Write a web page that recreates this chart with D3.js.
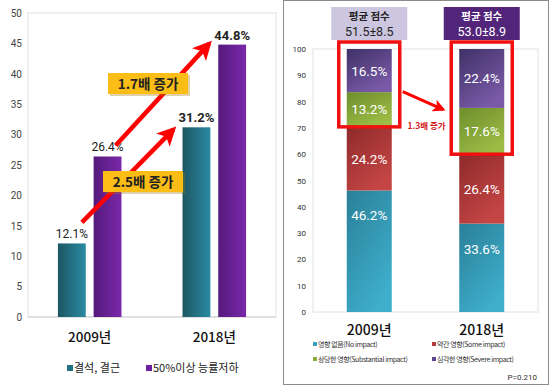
<!DOCTYPE html>
<html>
<head>
<meta charset="utf-8">
<script src="https://cdn.jsdelivr.net/npm/d3@7"></script>
<style>
  body { margin: 0; background: #fff; }
  svg { font-family: "Noto Sans CJK KR", "Noto Sans", sans-serif; }
</style>
</head>
<body>
<svg id="chart" width="550" height="387"></svg>
<script>
// left chart data
var years = ["2009년", "2018년"];
var leftSeries = ["결석, 결근", "50%이상 능률저하"];
var absence = [12.1, 31.2];
var lowWork = [26.4, 44.8];
var leftTicks = [0, 5, 10, 15, 20, 25, 30, 35, 40, 45, 50];

// right chart data
var impactKeys = ["영향 없음(No impact)", "약간 영향(Some impact)", "상당한 영향(Substantial impact)", "심각한 영향(Severe impact)"];
var noImpact = [46.2, 33.6];
var someImpact = [24.2, 26.4];
var substImpact = [13.2, 17.6];
var severeImpact = [16.5, 22.4];
var meanScores = ["51.5±8.5", "53.0±8.9"];
var rightTicks = [0, 10, 20, 30, 40, 50, 60, 70, 80, 90, 100];

var svg = d3.select("#chart");
var defs = svg.append("defs");

function grad(id, c1, c2, vertical) {
  var g = defs.append("linearGradient").attr("id", id)
    .attr("x1", 0).attr("y1", 0)
    .attr("x2", vertical ? 0.6 : 1).attr("y2", vertical ? 1 : 0);
  g.append("stop").attr("offset", "0%").attr("stop-color", c1);
  g.append("stop").attr("offset", "100%").attr("stop-color", c2);
}
grad("gTeal", "#1d5663", "#2a8ba3");
grad("gPurple", "#541a7c", "#7a28aa");
grad("rTeal", "#2a7f98", "#3eaecb", true);
grad("rRed", "#8e2a2a", "#c54545", true);
grad("rGreen", "#6e8e2c", "#9cbc46", true);
grad("rPurple", "#3f3166", "#7a5aa8", true);

var marker = defs.append("marker").attr("id", "arrowHead")
  .attr("viewBox", "0 0 10 10").attr("refX", 8).attr("refY", 5)
  .attr("markerWidth", 4.2).attr("markerHeight", 4.2)
  .attr("markerUnits", "strokeWidth")
  .attr("orient", "auto");
marker.append("path").attr("d", "M0,0 L10,5 L0,10 L2.5,5 Z").attr("fill", "#f00");

// ---------------- left panel ----------------
var L = { left: 28, right: 276, top: 13, bottom: 317 };
var yL = d3.scaleLinear().domain([0, 50]).range([L.bottom, L.top]);
var xL = d3.scaleBand().domain(years).range([L.left, L.right])
  .paddingInner(0.49).paddingOuter(0.24);
var xSub = d3.scaleBand().domain(leftSeries).range([0, xL.bandwidth()]).paddingInner(0.22);

svg.append("rect")
  .attr("x", L.left).attr("y", L.top)
  .attr("width", L.right - L.left).attr("height", L.bottom - L.top)
  .attr("fill", "none").attr("stroke", "#e2e2e2");
svg.append("line")
  .attr("x1", L.left).attr("x2", L.right)
  .attr("y1", L.bottom).attr("y2", L.bottom)
  .attr("stroke", "#cfcfcf");

var yAxisL = svg.append("g").attr("transform", "translate(" + (L.left - 6) + ",0)")
  .call(d3.axisLeft(yL).tickValues(leftTicks).tickSize(0).tickPadding(0));
yAxisL.select(".domain").remove();
yAxisL.selectAll("text").attr("font-size", "10px").attr("fill", "#444")
  .attr("font-family", "Roboto, 'Noto Sans', sans-serif");

var leftData = years.map(function(y, i) {
  return [
    { year: y, key: leftSeries[0], v: absence[i], fill: "url(#gTeal)", bold: i == 1 },
    { year: y, key: leftSeries[1], v: lowWork[i], fill: "url(#gPurple)", bold: i == 1 }
  ];
});

var groups = svg.selectAll(".lgroup")
  .data(leftData).enter().append("g")
  .attr("class", "lgroup")
  .attr("transform", function(d, i) { return "translate(" + xL(years[i]) + ",0)"; });

groups.selectAll("rect")
  .data(function(d) { return d; }).enter().append("rect")
  .attr("x", function(d) { return xSub(d.key); })
  .attr("y", function(d) { return yL(d.v); })
  .attr("width", xSub.bandwidth())
  .attr("height", function(d) { return yL(0) - yL(d.v); })
  .attr("fill", function(d) { return d.fill; });

groups.selectAll("text")
  .data(function(d) { return d; }).enter().append("text")
  .attr("x", function(d) { return xSub(d.key) + xSub.bandwidth() / 2; })
  .attr("y", function(d) { return yL(d.v) - 5; })
  .attr("text-anchor", "middle")
  .attr("font-size", function(d) { return d.bold ? "13px" : "12px"; })
  .attr("font-weight", function(d) { return d.bold ? "bold" : "normal"; })
  .attr("font-family", "Roboto, 'Noto Sans', sans-serif")
  .attr("fill", "#222")
  .text(function(d) { return d.v.toFixed(1) + "%"; });

svg.selectAll(".lyear")
  .data(years).enter().append("text")
  .attr("class", "lyear")
  .attr("x", function(d) { return xL(d) + xL.bandwidth() / 2; })
  .attr("y", 342)
  .attr("text-anchor", "middle")
  .attr("font-size", "13.5px")
  .attr("font-weight", "500")
  .attr("fill", "#111")
  .text(function(d) { return d; });

// left legend
var legL = svg.selectAll(".legL")
  .data(leftSeries).enter().append("g")
  .attr("class", "legL")
  .attr("transform", function(d, i) { return "translate(" + [67, 146][i] + ",370)"; });
legL.append("rect").attr("x", 0).attr("y", -5).attr("width", 6).attr("height", 6)
  .attr("fill", function(d, i) { return i ? "#6a22a0" : "#236f82"; });
legL.append("text").attr("x", 7).attr("y", 1.5)
  .attr("font-size", "11px").attr("fill", "#222")
  .text(function(d) { return d; });

// arrows and growth labels (left)
function leftArrow(x1, y1, x2, y2) {
  svg.append("line")
    .attr("x1", x1).attr("y1", y1).attr("x2", x2).attr("y2", y2)
    .attr("stroke", "#f00").attr("stroke-width", 4.5)
    .attr("marker-end", "url(#arrowHead)");
}
var x09 = xL(years[0]), x18 = xL(years[1]);
leftArrow(x09 + xSub(leftSeries[0]) + 24, yL(absence[0]) - 21,
          x18 + xSub(leftSeries[0]) - 9, yL(absence[1]) + 2);
leftArrow(x09 + xSub(leftSeries[1]) + 22, yL(lowWork[0]) - 11,
          x18 + xSub(leftSeries[1]) - 9, yL(lowWork[1]) - 1);

function tag(cx, cy, txt) {
  var g = svg.append("g").attr("transform", "translate(" + cx + "," + cy + ")");
  g.append("rect").attr("x", -38).attr("y", -9).attr("width", 80).attr("height", 21)
    .attr("fill", "#a07a10").attr("opacity", 0.35);
  g.append("rect").attr("x", -40).attr("y", -11).attr("width", 80).attr("height", 21)
    .attr("fill", "#fbbd16");
  g.append("text").attr("x", 0).attr("y", 5).attr("text-anchor", "middle")
    .attr("font-size", "13.5px").attr("font-weight", "bold").attr("fill", "#222")
    .text(txt);
}
tag(148, 84, "1.7배 증가");
tag(143, 182, "2.5배 증가");

// ---------------- right panel ----------------
svg.append("rect")
  .attr("x", 283.5).attr("y", 0.5).attr("width", 265).attr("height", 384)
  .attr("fill", "none").attr("stroke", "#8a8a8a");

var R = { left: 313, right: 538, top: 49, bottom: 312 };
var yR = d3.scaleLinear().domain([0, 100]).range([R.bottom, R.top]);
var xR = d3.scaleBand().domain(years).range([R.left, R.right])
  .paddingInner(0.6).paddingOuter(0.3);

svg.append("rect")
  .attr("x", R.left).attr("y", R.top)
  .attr("width", R.right - R.left).attr("height", R.bottom - R.top)
  .attr("fill", "none").attr("stroke", "#e2e2e2");

var yAxisR = svg.append("g").attr("transform", "translate(" + (R.left - 7) + ",0)")
  .call(d3.axisLeft(yR).tickValues(rightTicks).tickSize(0).tickPadding(0));
yAxisR.select(".domain").remove();
yAxisR.selectAll("text").attr("font-size", "8px").attr("fill", "#333")
  .attr("font-family", "Roboto, 'Noto Sans', sans-serif");

var fillsR = ["url(#rTeal)", "url(#rRed)", "url(#rGreen)", "url(#rPurple)"];
var stackRows = years.map(function(y, i) {
  var row = { year: y };
  row[impactKeys[0]] = noImpact[i];
  row[impactKeys[1]] = someImpact[i];
  row[impactKeys[2]] = substImpact[i];
  row[impactKeys[3]] = severeImpact[i];
  return row;
});
var series = d3.stack().keys(impactKeys)(stackRows);

var layers = svg.selectAll(".layer")
  .data(series).enter().append("g")
  .attr("class", "layer")
  .attr("fill", function(d, i) { return fillsR[i]; });

layers.selectAll("rect")
  .data(function(d) { return d; }).enter().append("rect")
  .attr("x", function(d) { return xR(d.data.year); })
  .attr("y", function(d) { return yR(Math.min(d[1], 100)); })
  .attr("width", xR.bandwidth())
  .attr("height", function(d) { return yR(d[0]) - yR(Math.min(d[1], 100)); });

layers.selectAll("text")
  .data(function(d) { return d; }).enter().append("text")
  .attr("x", function(d) { return xR(d.data.year) + xR.bandwidth() / 2; })
  .attr("y", function(d, i) {
    var top = Math.min(d[1], 100);
    var mid = (yR(d[0]) + yR(top)) / 2;
    // bottom segments sit a bit higher in the reference
    if (d[0] === 0) mid = yR(top) + 25;
    return mid + 5;
  })
  .attr("text-anchor", "middle")
  .attr("font-size", "13.5px")
  .attr("fill", "#fff")
  .attr("font-family", "Roboto, 'Noto Sans', sans-serif")
  .text(function(d) { return (d[1] - d[0]).toFixed(1) + "%"; });

svg.selectAll(".ryear")
  .data(years).enter().append("text")
  .attr("class", "ryear")
  .attr("x", function(d) { return xR(d) + xR.bandwidth() / 2; })
  .attr("y", 335)
  .attr("text-anchor", "middle")
  .attr("font-size", "14px")
  .attr("font-weight", "500")
  .attr("fill", "#111")
  .text(function(d) { return d; });

// mean score headers
var heads = svg.selectAll(".head")
  .data(meanScores).enter().append("g")
  .attr("class", "head")
  .attr("transform", function(d, i) {
    return "translate(" + (xR(years[i]) + xR.bandwidth() / 2) + ",7)";
  });
heads.append("rect")
  .attr("x", -38).attr("y", 0).attr("width", 76).attr("height", 33)
  .attr("fill", function(d, i) { return i ? "#52247a" : "#cdc6e0"; });
heads.append("text").attr("x", 0).attr("y", 13).attr("text-anchor", "middle")
  .attr("font-size", "10.5px").attr("font-weight", "bold")
  .attr("fill", function(d, i) { return i ? "#fff" : "#222"; })
  .text("평균 점수");
heads.append("text").attr("x", 0).attr("y", 29).attr("text-anchor", "middle")
  .attr("font-size", "12.5px")
  .attr("font-family", "Roboto, 'Noto Sans', sans-serif")
  .attr("fill", function(d, i) { return i ? "#fff" : "#222"; })
  .text(function(d) { return d; });

// red highlight boxes around the top two segments
var hiBoxes = years.map(function(y, i) {
  return { year: y, low: noImpact[i] + someImpact[i] };
});
svg.selectAll(".hibox")
  .data(hiBoxes).enter().append("rect")
  .attr("class", "hibox")
  .attr("x", function(d) { return xR(d.year) - 8; })
  .attr("y", yR(100) - 7)
  .attr("width", xR.bandwidth() + 16)
  .attr("height", function(d) { return yR(d.low) - yR(100) + 7; })
  .attr("fill", "none").attr("stroke", "#f01010").attr("stroke-width", 3.5);

svg.append("line")
  .attr("x1", xR(years[0]) + xR.bandwidth() + 11).attr("y1", yR(80) - 10)
  .attr("x2", xR(years[1]) - 16).attr("y2", yR(80) + 8)
  .attr("stroke", "#f00").attr("stroke-width", 3)
  .attr("marker-end", "url(#arrowHead)");
svg.append("text")
  .attr("x", (xR(years[0]) + xR.bandwidth() + xR(years[1])) / 2 + 1)
  .attr("y", yR(70) + 1)
  .attr("text-anchor", "middle")
  .attr("font-size", "8.5px").attr("font-weight", "bold")
  .attr("fill", "#d42020")
  .text("1.3배 증가");

// right legend
var legColors = ["#3a9fbb", "#b83a3a", "#8caa3c", "#5b4690"];
var legR = svg.selectAll(".legR")
  .data(impactKeys).enter().append("g")
  .attr("class", "legR")
  .attr("transform", function(d, i) {
    return "translate(" + (i % 2 ? 432 : 313) + "," + (i < 2 ? 346 : 361) + ")";
  });
legR.append("rect").attr("x", 0).attr("y", -4).attr("width", 4).attr("height", 4)
  .attr("fill", function(d, i) { return legColors[i]; });
legR.append("text").attr("x", 5).attr("y", 0.5)
  .attr("font-size", "7px").attr("letter-spacing", "-0.4px").attr("fill", "#333")
  .text(function(d) { return d; });

svg.append("text")
  .attr("x", 537).attr("y", 380)
  .attr("text-anchor", "end")
  .attr("font-size", "8px").attr("fill", "#333")
  .attr("font-family", "Roboto, 'Noto Sans', sans-serif")
  .text("P=0.210");
</script>
</body>
</html>
